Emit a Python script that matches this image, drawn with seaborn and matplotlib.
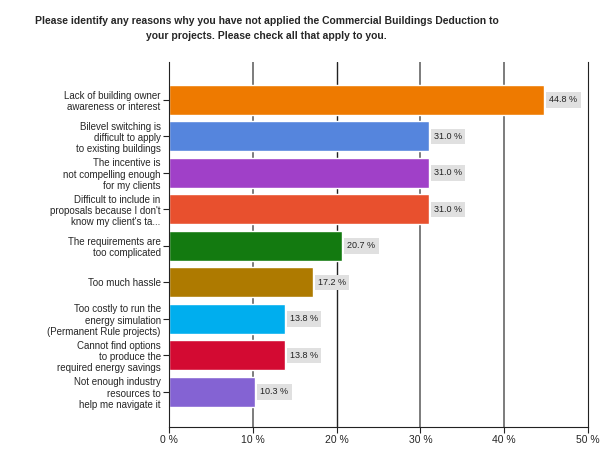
import matplotlib
matplotlib.use("Agg")
import matplotlib.pyplot as plt
import seaborn as sns
import pandas as pd

categories = [
    "Lack of building owner\nawareness or interest",
    "Bilevel switching is\ndifficult to apply\nto existing buildings",
    "The incentive is\nnot compelling enough\nfor my clients",
    "Difficult to include in\nproposals because I don't\nknow my client's ta...",
    "The requirements are\ntoo complicated",
    "Too much hassle",
    "Too costly to run the\nenergy simulation\n(Permanent Rule projects)",
    "Cannot find options\nto produce the\nrequired energy savings",
    "Not enough industry\nresources to\nhelp me navigate it",
]
values = [44.8, 31.0, 31.0, 31.0, 20.7, 17.2, 13.8, 13.8, 10.3]
colors = ["#EE7A00", "#5585DD", "#A040C8", "#E8502E", "#137A10",
          "#AE7A00", "#00AEEE", "#D30A32", "#8463D3"]
xticks = [0, 10, 20, 30, 40, 50]
title = ("Please identify any reasons why you have not applied the Commercial Buildings Deduction to\n"
         "your projects. Please check all that apply to you.")

sns.set_style("white")
plt.rcParams['font.family'] = ['Liberation Sans', 'DejaVu Sans']

df = pd.DataFrame({"cat": categories, "val": values})
fig = plt.figure(figsize=(6.09, 4.58), dpi=100)
ax = fig.add_axes([0.2775, 0.0677, 0.688, 0.797])

sns.barplot(data=df, y="cat", x="val", hue="cat", palette=colors,
            orient="h", width=0.82, legend=False, ax=ax, saturation=1)

for i, v in enumerate(values):
    ax.text(v + 0.6, i, f"{v:.1f} %", va="center", ha="left", fontsize=6.5,
            color="#222222",
            bbox=dict(boxstyle="square,pad=0.35", fc="#E0E0E0", ec="none"))

ax.set_xlim(0, 50)
ax.set_ylim(8.96, -1.04)
ax.set_xticks(xticks)
ax.set_xticklabels([f"{t} %" for t in xticks], fontsize=7.5)
ax.tick_params(axis="y", labelsize=7, length=4, width=0.8, color="#222222", left=True, pad=2)
ax.tick_params(axis="x", length=4, width=0.8, color="#222222", bottom=True, pad=2)
for t in ax.get_yticklabels():
    t.set_multialignment("right")
    t.set_linespacing(1.15)
for xv in [10, 30, 40]:
    ax.axvline(xv, color="#666666", lw=1.2, zorder=0)
ax.axvline(20, color="#222222", lw=1.0, zorder=0)
ax.set_xlabel("")
ax.set_ylabel("")
ax.spines["top"].set_visible(False)
for s in ["right", "left", "bottom"]:
    ax.spines[s].set_color("#222222")
fig.text(0.438, 0.965, title, fontsize=7.5, fontweight="bold", ha="center", va="top",
         linespacing=1.65, multialignment="center")
fig.savefig("out.png", dpi=100)
